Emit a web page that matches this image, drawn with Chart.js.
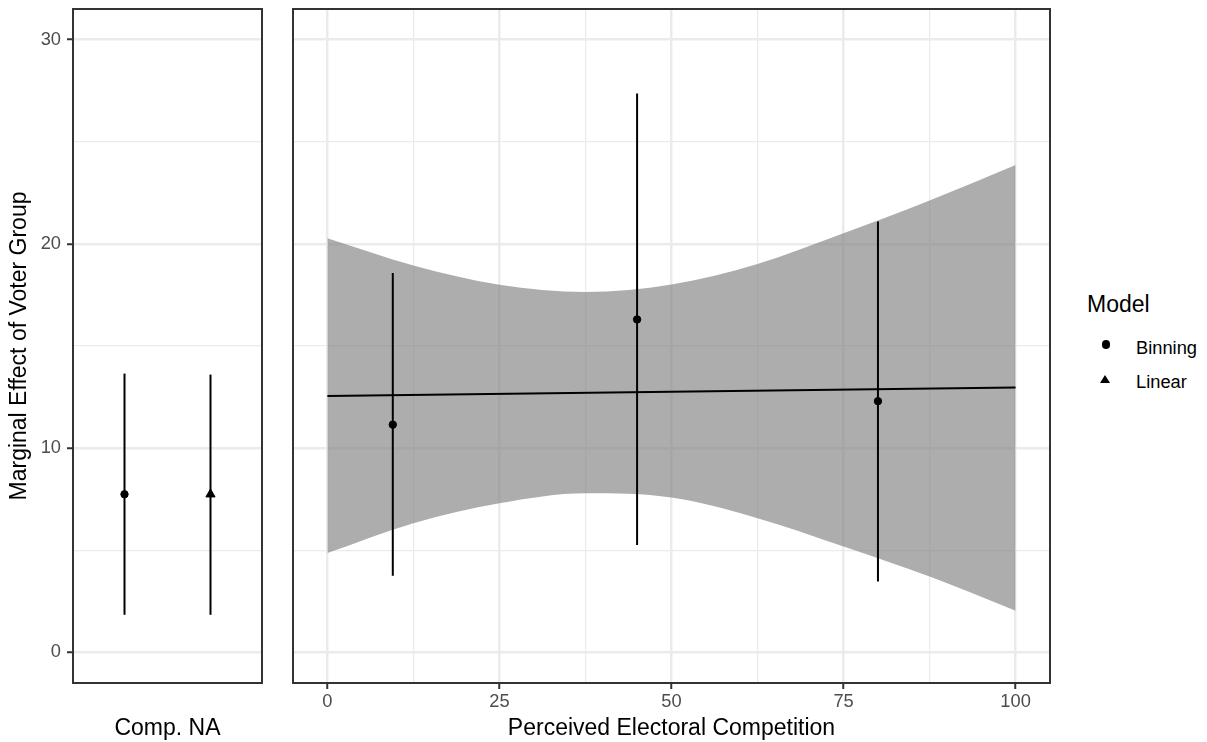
<!DOCTYPE html>
<html><head><meta charset="utf-8">
<script src="https://cdn.jsdelivr.net/npm/chart.js@4/dist/chart.umd.min.js"></script>
<style>
body{margin:0;background:#fff;width:1207px;height:742px;overflow:hidden;position:relative;font-family:"Liberation Sans",Arial,Helvetica,sans-serif;}
canvas{position:absolute;top:0;}
#left{left:0}
#right{left:280px}
.lg{position:absolute;line-height:1;white-space:nowrap;color:#000}
</style></head><body>
<canvas id="left" width="270" height="742"></canvas>
<canvas id="right" width="800" height="742"></canvas>
<div class="lg" style="left:1087px;top:292.6px;font-size:23px">Model</div>
<div style="position:absolute;left:1101.8px;top:340.3px;width:8.4px;height:8.4px;border-radius:50%;background:#000"></div>
<div class="lg" style="left:1136px;top:338.8px;font-size:18.3px">Binning</div>
<div style="position:absolute;left:1100px;top:375px;width:0;height:0;border-left:5px solid transparent;border-right:5px solid transparent;border-bottom:8.7px solid #000"></div>
<div class="lg" style="left:1136px;top:372.8px;font-size:18.3px">Linear</div>
<script>
// ---- data ----
const naModels = ['Binning', 'Linear'];
const naX = [0.727, 1.273];
const naEst = [7.74, 7.74];
const naLo = [1.84, 1.84];
const naHi = [13.65, 13.6];

const binX = [9.5, 45, 80];
const binEst = [11.15, 16.3, 12.3];
const binLo = [3.75, 5.26, 3.47];
const binHi = [18.58, 27.36, 21.09];

const bandX = [0, 12.5, 25, 37.5, 50, 62.5, 75, 87.5, 100];
const bandUpper = [20.27, 18.94, 18.0, 17.64, 18.01, 19.02, 20.52, 22.12, 23.86];
const bandLower = [4.86, 6.32, 7.30, 7.79, 7.58, 6.57, 5.18, 3.71, 2.04];

const fitX = [0, 100];
const fitY = [12.55, 12.97];

const yGrid = [0, 5, 10, 15, 20, 25, 30];
const yMajor = [0, 10, 20, 30];
const xGrid = [0, 12.5, 25, 37.5, 50, 62.5, 75, 87.5, 100];
const xMajor = [0, 25, 50, 75, 100];

const yTitle = 'Marginal Effect of Voter Group';
const xTitleNA = 'Comp. NA';
const xTitle = 'Perceived Electoral Competition';

// ---- style ----
const FONT = '"Liberation Sans", Arial, Helvetica, sans-serif';
Chart.defaults.font.family = FONT;
Chart.defaults.animation = false;
Chart.defaults.devicePixelRatio = 1;

const frame = {id:'frame', afterDatasetsDraw(chart){
  const {ctx, chartArea:a} = chart;
  ctx.save(); ctx.strokeStyle = '#333333'; ctx.lineWidth = 2;
  ctx.strokeRect(a.left, a.top, a.right - a.left, a.bottom - a.top);
  ctx.restore();
}};

const isMaj = (list, c) => c.tick && list.includes(c.tick.value);
const noPad = s => { s.paddingTop = 0; s.paddingBottom = 0; s.paddingLeft = 0; s.paddingRight = 0; };

function yScale(show, width){
  return {
    type:'linear', min:-1.5, max:31.5,
    afterBuildTicks: s => { s.ticks = yGrid.map(v => ({value:v})); },
    afterFit: s => { s.width = width; noPad(s); },
    grid:{color:'#EBEBEB', lineWidth: c => isMaj(yMajor, c) ? 2.5 : 1.3,
      drawTicks: show, tickLength:6, tickWidth:2,
      tickColor: c => isMaj(yMajor, c) ? '#333333' : 'rgba(0,0,0,0)'},
    border:{display:false},
    ticks:{display:show, padding:6, color:'#4D4D4D', font:{size:18.3},
      callback: v => yMajor.includes(v) ? String(v) : ''},
    title: show ? {display:true, text:yTitle, color:'#000', font:{size:23}, padding:{top:6,bottom:0}} : {display:false}
  };
}

function errBars(xs, lo, hi){
  return xs.map((x,i) => ({type:'line', data:[{x:x,y:lo[i]},{x:x,y:hi[i]}],
    borderColor:'#000', borderWidth:2, pointRadius:0, fill:false, order:2}));
}

const common = {responsive:false, animation:false, events:[],
  plugins:{legend:{display:false}, tooltip:{enabled:false}}};

// ---- left panel ----
new Chart(document.getElementById('left'), {
  type:'line',
  data:{datasets:[
    ...errBars(naX, naLo, naHi),
    {type:'line', label:naModels[0], data:[{x:naX[0],y:naEst[0]}], showLine:false,
      pointStyle:'circle', pointRadius:3.7, pointBorderWidth:1,
      pointBackgroundColor:'#000', pointBorderColor:'#000', order:1},
    {type:'line', label:naModels[1], data:[{x:naX[1],y:naEst[1]}], showLine:false,
      pointStyle:'triangle', pointRadius:5.3, pointBorderWidth:1,
      pointBackgroundColor:'#000', pointBorderColor:'#000', order:1}
  ]},
  options:{...common,
    layout:{padding:{left:0,right:8,top:9,bottom:0}},
    scales:{
      x:{type:'linear', min:0.4, max:1.6, afterFit: s => { s.height = 59; noPad(s); },
        grid:{display:false}, border:{display:false}, ticks:{display:false},
        title:{display:true, text:xTitleNA, color:'#000', font:{size:23}, padding:{top:0,bottom:0}}},
      y: yScale(true, 73)
    }
  },
  plugins:[frame]
});

// ---- right panel ----
new Chart(document.getElementById('right'), {
  type:'line',
  data:{datasets:[
    {type:'line', data: bandX.map((x,i)=>({x:x,y:bandUpper[i]})), borderWidth:0, borderColor:'rgba(0,0,0,0)',
      pointRadius:0, fill:'+1', backgroundColor:'rgba(127,127,127,0.64)', cubicInterpolationMode:'monotone', order:4},
    {type:'line', data: bandX.map((x,i)=>({x:x,y:bandLower[i]})), borderWidth:0, borderColor:'rgba(0,0,0,0)',
      pointRadius:0, fill:false, cubicInterpolationMode:'monotone', order:4},
    {type:'line', data: fitX.map((x,i)=>({x:x,y:fitY[i]})), borderColor:'#000', borderWidth:2,
      pointRadius:0, fill:false, order:3},
    ...errBars(binX, binLo, binHi),
    {type:'line', label:naModels[0], data: binX.map((x,i)=>({x:x,y:binEst[i]})), showLine:false,
      pointStyle:'circle', pointRadius:3.7, pointBorderWidth:1,
      pointBackgroundColor:'#000', pointBorderColor:'#000', order:1}
  ]},
  options:{...common,
    layout:{padding:{left:13,right:30,top:9,bottom:0}},
    scales:{
      x:{type:'linear', min:-5, max:105,
        afterBuildTicks: s => { s.ticks = xGrid.map(v => ({value:v})); },
        afterFit: s => { s.height = 59; noPad(s); },
        grid:{color:'#EBEBEB', lineWidth: c => isMaj(xMajor, c) ? 2.5 : 1.3,
          tickLength:6, tickWidth:2,
          tickColor: c => isMaj(xMajor, c) ? '#333333' : 'rgba(0,0,0,0)'},
        border:{display:false},
        ticks:{padding:2, color:'#4D4D4D', font:{size:18.3}, autoSkip:false, maxRotation:0,
          callback: v => xMajor.includes(v) ? String(v) : ''},
        title:{display:true, text:xTitle, color:'#000', font:{size:23}, padding:{top:0,bottom:0}}},
      y: yScale(false, 0)
    }
  },
  plugins:[frame]
});
</script>
</body></html>
